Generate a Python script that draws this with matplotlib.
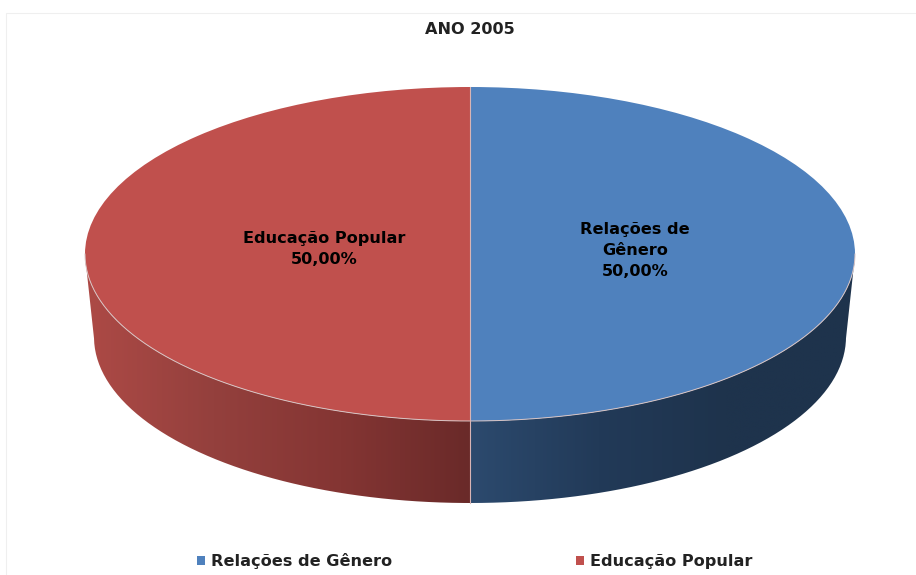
import numpy as np
import matplotlib
matplotlib.use("Agg")
import matplotlib.pyplot as plt
from matplotlib.colors import LinearSegmentedColormap
from matplotlib.patches import Rectangle
from matplotlib.path import Path

# --- dados ---
title = "ANO 2005"
categories = ["Relações de Gênero", "Educação Popular"]
wrapped_names = ["Relações de\nGênero", "Educação Popular"]
values = [50.0, 50.0]
colors = ["#4f81bd", "#c0504d"]

# gradientes da parede lateral (da esquerda para a direita)
wall_colors = [["#2c4a6e", "#223a58", "#1e334c", "#1e334c"],
               ["#ad4a46", "#94403d", "#843533", "#6a2a29"]]

# ellipse do topo, em pixels da imagem
W, H = 916, 575
CX, CY, RX, RY = 470, 254, 385, 167
# ellipse de baixo: um pouco menor por causa da perspectiva
BOTTOM_SCALE_X = 376 / RX
BOTTOM_SCALE_Y = 166 / RY
BOTTOM_SHIFT = 83 / RY

fig = plt.figure(figsize=(W / 100, H / 100), dpi=100)
ax = fig.add_axes([0, 0, 1, 1])

# parede lateral, desenhada antes do topo
t = np.linspace(0, 1, 200)
start = 90.0
angles = []
for v in values:
    end = start - 360.0 * v / sum(values)
    angles.append((start, end))
    start = end

for (a0, a1), wcols in zip(angles, wall_colors):
    # so a parte de baixo do circulo aparece
    a = np.radians(a0 + (a1 - a0) * t)
    a = a[np.sin(a) <= 0]
    xs, ys = np.cos(a), np.sin(a)
    xb = xs * BOTTOM_SCALE_X
    yb = ys * BOTTOM_SCALE_Y - BOTTOM_SHIFT
    px = np.r_[xs, xb[::-1], xs[0]]
    py = np.r_[ys, yb[::-1], ys[0]]
    left, right = px.min(), px.max()
    cmap = LinearSegmentedColormap.from_list("wall", wcols)
    im = ax.imshow(np.linspace(0, 1, 256).reshape(1, -1), cmap=cmap, aspect="auto",
                   extent=[left, right, py.min(), 0], interpolation="bilinear")
    im.set_clip_path(Path(np.c_[px, py]), ax.transData)

wedges, _ = ax.pie(values, colors=colors, startangle=90, counterclock=False, radius=1,
                   wedgeprops={"linewidth": 0})
ax.set_aspect("auto")
ax.set_xlim(-CX / RX, (W - CX) / RX)
ax.set_ylim((CY - H) / RY, CY / RY)
ax.axis("off")

# linhas claras entre as fatias e na borda de baixo do topo
a = np.radians(np.linspace(180, 360, 200))
ax.plot(np.cos(a), np.sin(a), color="#d8c4c4", lw=0.7)
ax.plot([0, 0], [1, -BOTTOM_SHIFT - BOTTOM_SCALE_Y], color="#d8b4b4", lw=0.8)

# rotulos
pct = [f"{100 * v / sum(values):.2f}%".replace(".", ",") for v in values]
label_x = [0.428, -0.379]
label_y = [0.02, 0.027]
for name, p, x, y in zip(wrapped_names, pct, label_x, label_y):
    ax.text(x, y, f"{name}\n{p}", ha="center", va="center", fontsize=11.6,
            fontweight="bold", color="black", linespacing=1.5)

fig.text(470 / W, 1 - 29 / H, title, ha="center", va="center", fontsize=11.6,
         fontweight="bold", color="#222222")

# moldura clara do grafico
ax.add_patch(Rectangle((6 / W, -0.1), 1.1, 1 - 13 / H + 0.1, transform=ax.transAxes,
                       fill=False, edgecolor="#efefef", lw=0.8))

ax.legend(wedges, categories, loc="center", bbox_to_anchor=(475 / W, 1 - 561 / H),
          ncol=2, frameon=False, labelcolor="#222222",
          prop={"weight": "bold", "size": 11.6},
          handlelength=0.5, handleheight=0.5, handletextpad=0.37, columnspacing=11.4)

fig.savefig("out.png", dpi=100)
